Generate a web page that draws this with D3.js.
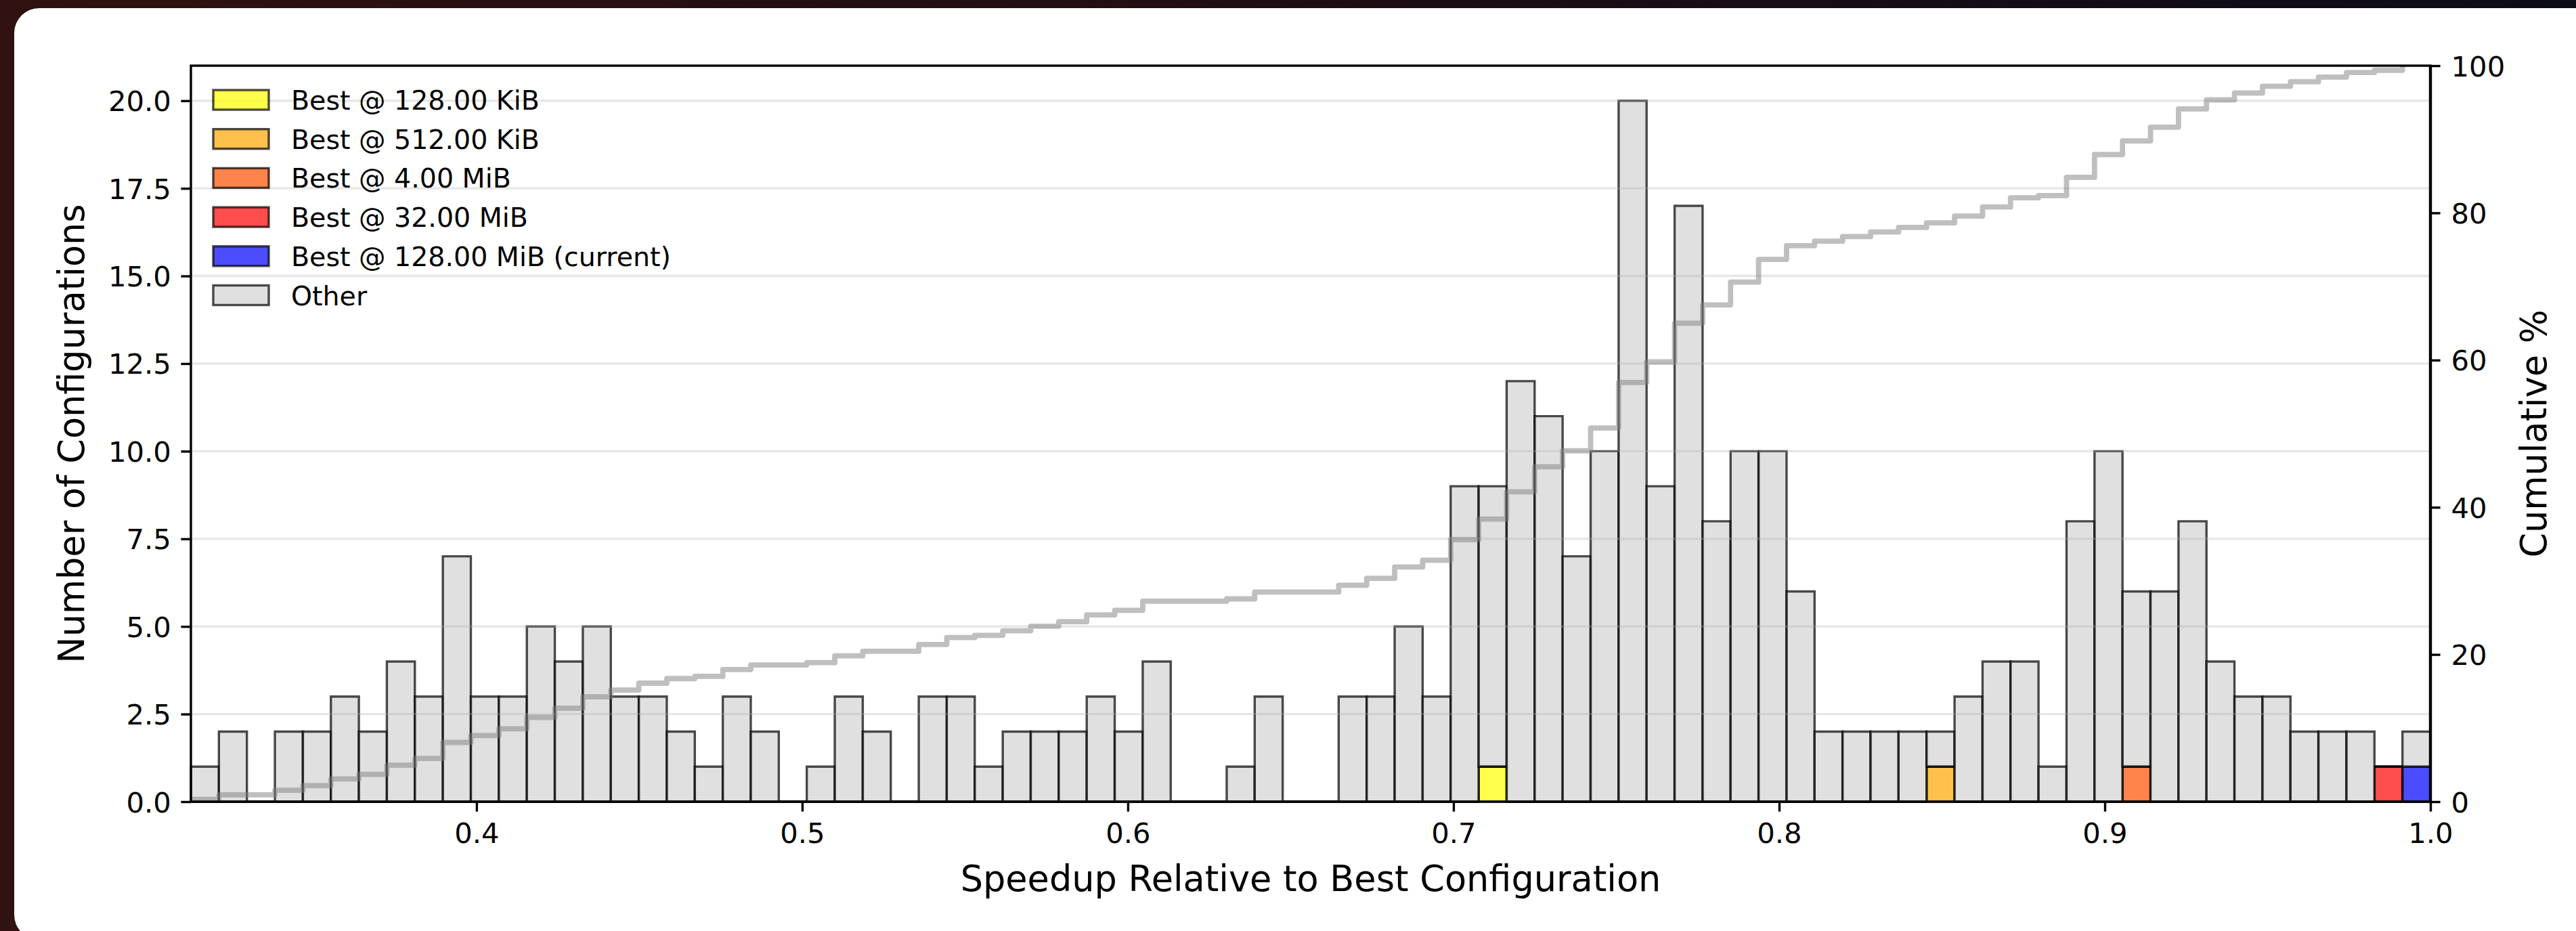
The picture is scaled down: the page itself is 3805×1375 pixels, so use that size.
<!DOCTYPE html>
<html>
<head>
<meta charset="utf-8">
<script src="https://cdn.jsdelivr.net/npm/d3@7"></script>
<style>
  html, body { margin: 0; padding: 0; background: #1a0f14; }
  svg { display: block; }
  text { font-family: "DejaVu Sans", sans-serif; fill: #000; }
</style>
</head>
<body>
<script>
// Speedup histogram: 80 equal-width bins between the slowest and the best configuration
const speedupMin = 0.3123;
const speedupMax = 1.0;
const binCount = 80;

// Configurations per bin that are not a per-size best
const otherCounts = [
  1, 2, 0, 2, 2, 3, 2, 4, 3, 7,
  3, 3, 5, 4, 5, 3, 3, 2, 1, 3,
  2, 0, 1, 3, 2, 0, 3, 3, 1, 2,
  2, 2, 3, 2, 4, 0, 0, 1, 3, 0,
  0, 3, 3, 5, 3, 9, 8, 12, 11, 7,
  10, 20, 9, 17, 8, 10, 10, 6, 2, 2,
  2, 2, 1, 3, 4, 4, 1, 8, 10, 5,
  6, 8, 4, 3, 3, 2, 2, 2, 0, 1
];

// Best configuration at each buffer size and its relative speedup
const bestLabels = [
  "Best @ 128.00 KiB",
  "Best @ 512.00 KiB",
  "Best @ 4.00 MiB",
  "Best @ 32.00 MiB",
  "Best @ 128.00 MiB (current)"
];
const bestSpeedups = [0.712, 0.850, 0.910, 0.983, 0.996];
const bestColors = ["#ffff00", "#ffa500", "#ff5000", "#ff0000", "#0000ff"];
const otherLabel = "Other";
const otherColor = "#d3d3d3";

// Axis ticks
const countTicks = [0, 2.5, 5, 7.5, 10, 12.5, 15, 17.5, 20];
const speedupTicks = [0.4, 0.5, 0.6, 0.7, 0.8, 0.9, 1.0];
const cumulativeTicks = [0, 20, 40, 60, 80, 100];

const W = 3805, H = 1375;
const M = { left: 282, right: 3590, top: 97, bottom: 1184 };
const tickFont = 41.7, labelFont = 52.5, legendFont = 39.5;
const lw = 3.4;

const svg = d3.select("body").append("svg")
  .attr("width", W).attr("height", H)
  .attr("viewBox", `0 0 ${W} ${H}`);

// Backdrop and card
const defs = svg.append("defs");
const grad = defs.append("linearGradient").attr("id", "backdrop")
  .attr("x1", 0).attr("y1", 0).attr("x2", 1).attr("y2", 0);
grad.append("stop").attr("offset", 0).attr("stop-color", "#311111");
grad.append("stop").attr("offset", 1).attr("stop-color", "#0b0b17");
defs.append("clipPath").attr("id", "plotClip").append("rect")
  .attr("x", M.left).attr("y", M.top)
  .attr("width", M.right - M.left).attr("height", M.bottom - M.top);

svg.append("rect").attr("width", W).attr("height", H).attr("fill", "url(#backdrop)");
svg.append("rect").attr("x", 21).attr("y", 12)
  .attr("width", 3830).attr("height", 1376).attr("rx", 37).attr("ry", 37)
  .attr("fill", "#ffffff");

// Scales
const x = d3.scaleLinear().domain([speedupMin, speedupMax]).range([M.left, M.right]);
const y = d3.scaleLinear().domain([0, 21]).range([M.bottom, M.top]);
const y2 = d3.scaleLinear().domain([0, 100]).range([M.bottom, M.top]);

const binWidth = (speedupMax - speedupMin) / binCount;
const edges = d3.range(binCount + 1).map(i => speedupMin + i * binWidth);
const binOf = v => Math.min(binCount - 1, Math.floor((v - speedupMin) / binWidth));

// Stacked series: each best configuration first, then the rest
const series = bestLabels.map((label, k) => {
  const counts = new Array(binCount).fill(0);
  counts[binOf(bestSpeedups[k])] += 1;
  return { label, color: bestColors[k], counts };
});
series.push({ label: otherLabel, color: otherColor, counts: otherCounts });

const totals = d3.range(binCount).map(i => d3.sum(series, s => s.counts[i]));
const grandTotal = d3.sum(totals);
const cumulative = d3.cumsum(totals).map(c => c / grandTotal * 100);

// Bars
const bottoms = new Array(binCount).fill(0);
const barLayer = svg.append("g");
series.forEach(s => {
  const g = barLayer.append("g");
  s.counts.forEach((c, i) => {
    const b0 = bottoms[i], b1 = b0 + c;
    const x0 = x(edges[i]), x1 = x(edges[i + 1]);
    g.append("path")
      .attr("d", `M${x0},${y(b0)}H${x1}V${y(b1)}H${x0}Z`)
      .attr("fill", s.color).attr("fill-opacity", 0.7)
      .attr("stroke", "#000").attr("stroke-opacity", 0.7)
      .attr("stroke-width", lw).attr("stroke-linejoin", "miter");
    bottoms[i] = b1;
  });
});

// Horizontal grid
svg.append("g").selectAll("line").data(countTicks).join("line")
  .attr("x1", M.left).attr("x2", M.right)
  .attr("y1", d => y(d)).attr("y2", d => y(d))
  .attr("stroke", "#b0b0b0").attr("stroke-opacity", 0.3).attr("stroke-width", lw);

// Left axis
const leftAxis = svg.append("g").attr("transform", `translate(${M.left},0)`)
  .call(d3.axisLeft(y).tickValues(countTicks).tickFormat(d3.format(".1f"))
    .tickSize(14.6).tickPadding(14.6));
leftAxis.select(".domain").remove();
leftAxis.selectAll(".tick line").attr("stroke", "#000").attr("stroke-width", lw);
leftAxis.selectAll(".tick text").attr("font-size", tickFont).attr("dy", "0.36em")
  .attr("font-family", "DejaVu Sans").attr("fill", "#000");

// Bottom axis
const bottomAxis = svg.append("g").attr("transform", `translate(0,${M.bottom})`)
  .call(d3.axisBottom(x).tickValues(speedupTicks).tickFormat(d3.format(".1f"))
    .tickSize(14.6).tickPadding(17));
bottomAxis.select(".domain").remove();
bottomAxis.selectAll(".tick line").attr("stroke", "#000").attr("stroke-width", lw);
bottomAxis.selectAll(".tick text").attr("font-size", tickFont)
  .attr("font-family", "DejaVu Sans").attr("fill", "#000");

// Cumulative share, stepping at each bin's left edge
const stepLine = d3.line()
  .x((d, i) => x(edges[i]))
  .y(d => y2(d))
  .curve(d3.curveStepAfter);
svg.append("path")
  .datum(cumulative)
  .attr("clip-path", "url(#plotClip)")
  .attr("d", stepLine)
  .attr("fill", "none")
  .attr("stroke", "#808080").attr("stroke-opacity", 0.5)
  .attr("stroke-width", 7.8)
  .attr("stroke-linecap", "square").attr("stroke-linejoin", "round");

// Frame
svg.append("rect")
  .attr("x", M.left).attr("y", M.top)
  .attr("width", M.right - M.left).attr("height", M.bottom - M.top)
  .attr("fill", "none").attr("stroke", "#000").attr("stroke-width", lw);
svg.append("line")
  .attr("x1", M.right).attr("x2", M.right).attr("y1", M.top).attr("y2", M.bottom)
  .attr("stroke", "#000").attr("stroke-width", lw + 1);

// Right axis
const rightAxis = svg.append("g").attr("transform", `translate(${M.right},0)`)
  .call(d3.axisRight(y2).tickValues(cumulativeTicks).tickFormat(d3.format("d"))
    .tickSize(14.6).tickPadding(16));
rightAxis.select(".domain").remove();
rightAxis.selectAll(".tick line").attr("stroke", "#000").attr("stroke-width", lw);
rightAxis.selectAll(".tick text").attr("font-size", tickFont).attr("dy", "0.36em")
  .attr("font-family", "DejaVu Sans").attr("fill", "#000");

// Axis titles
svg.append("text")
  .attr("x", (M.left + M.right) / 2).attr("y", 1316)
  .attr("text-anchor", "middle").attr("font-size", labelFont)
  .text("Speedup Relative to Best Configuration");
svg.append("text")
  .attr("transform", `translate(124,${(M.top + M.bottom) / 2}) rotate(-90)`)
  .attr("text-anchor", "middle").attr("font-size", labelFont)
  .text("Number of Configurations");
svg.append("text")
  .attr("transform", `translate(3761,${(M.top + M.bottom) / 2}) rotate(-90)`)
  .attr("text-anchor", "middle").attr("font-size", labelFont)
  .text("Cumulative %");

// Legend
const legend = svg.append("g");
series.forEach((s, k) => {
  const top = 133 + k * 57.7;
  legend.append("rect")
    .attr("x", 315).attr("y", top).attr("width", 82).attr("height", 29)
    .attr("fill", s.color).attr("fill-opacity", 0.7)
    .attr("stroke", "#000").attr("stroke-opacity", 0.7).attr("stroke-width", lw);
  legend.append("text")
    .attr("x", 430).attr("y", top + 29)
    .attr("font-size", legendFont)
    .text(s.label);
});
</script>
</body>
</html>
